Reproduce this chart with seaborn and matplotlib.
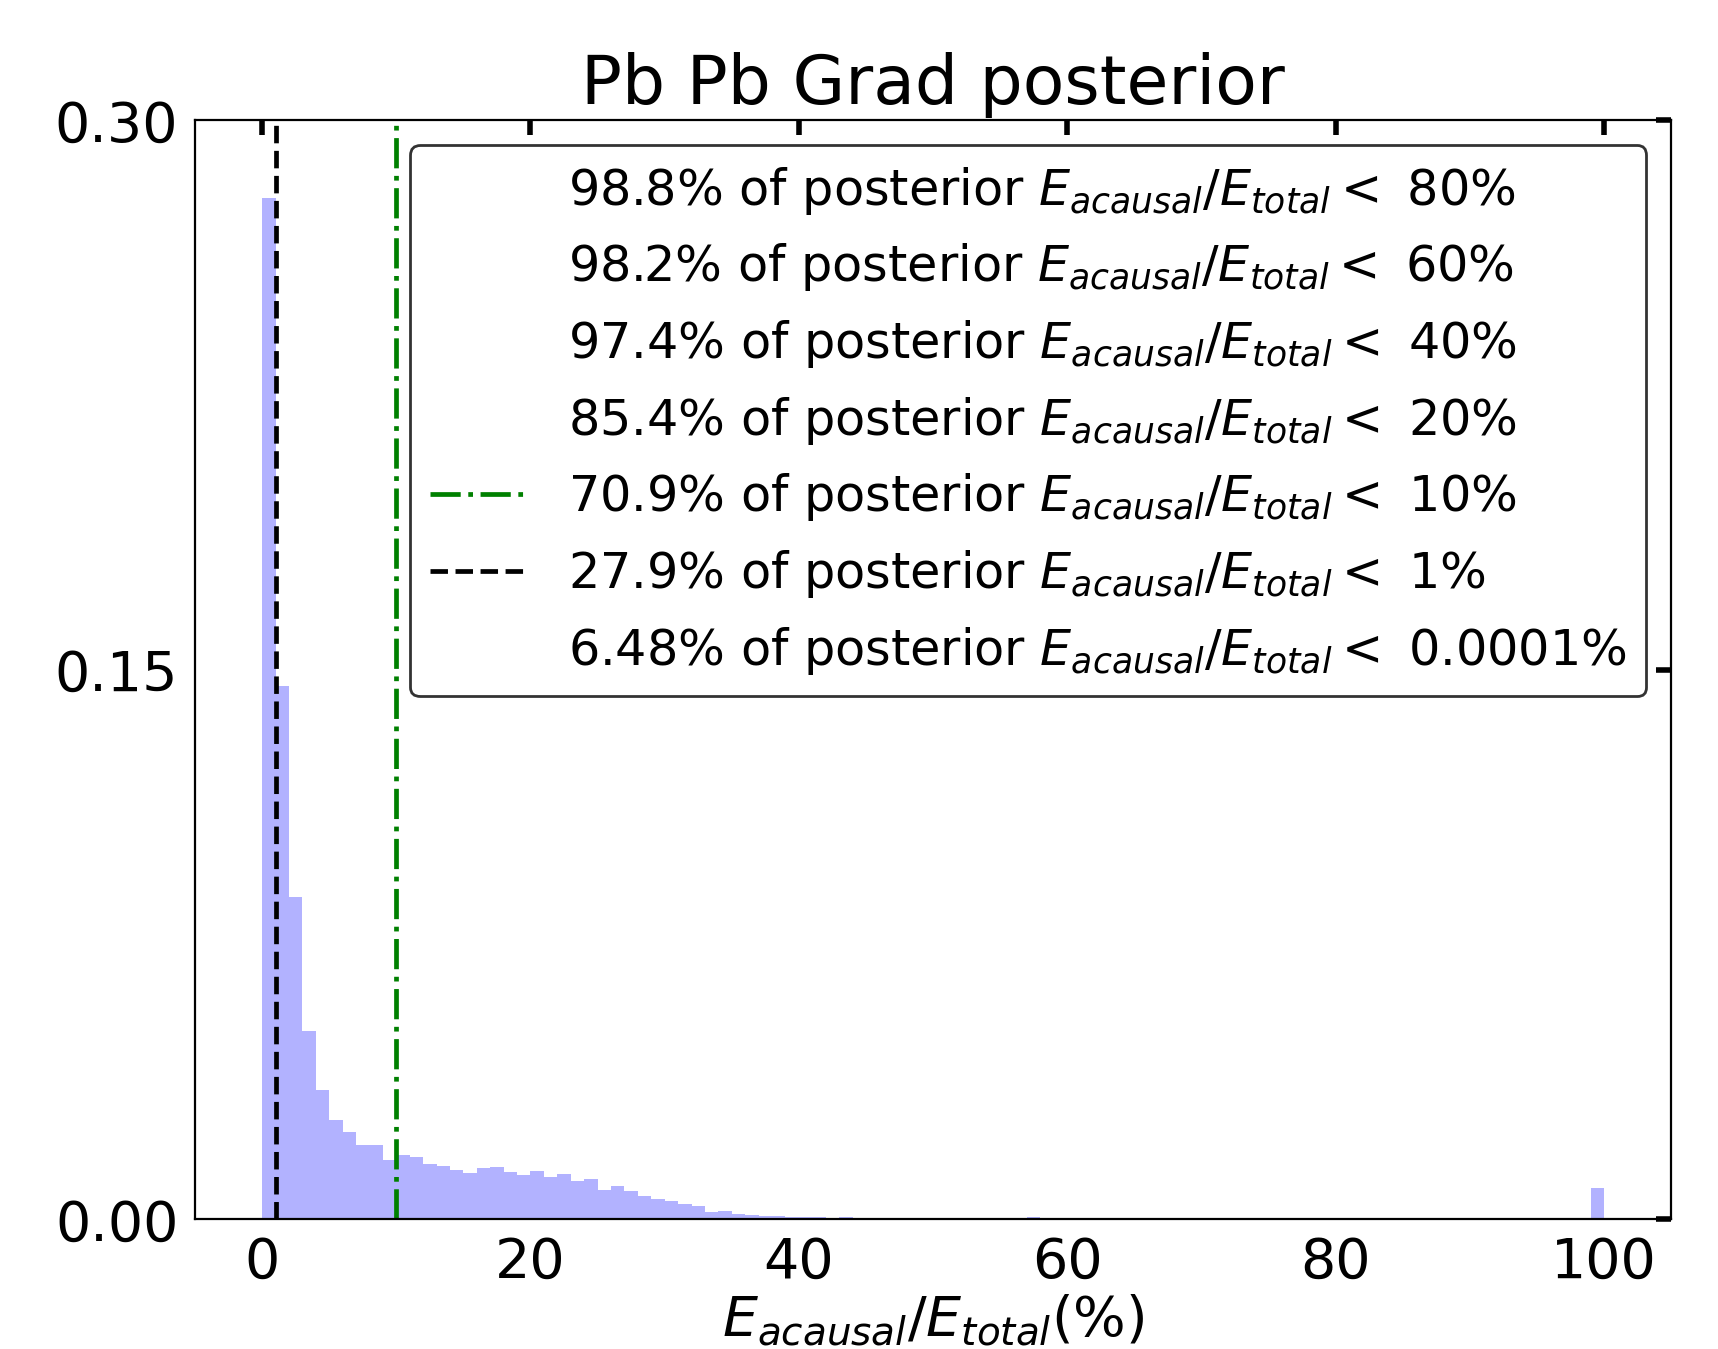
import numpy as np
import pandas as pd
import seaborn as sns
from matplotlib import pyplot as plt

# histogram of E_acausal/E_total (%) posterior, density per 1% bin
bin_edges = list(range(0, 101))
density = [
    0.2788, 0.1455, 0.0879, 0.0514, 0.0353, 0.0272, 0.0239, 0.0204, 0.0204, 0.0163,
    0.0177, 0.0171, 0.0152, 0.0147, 0.0136, 0.0127, 0.0141, 0.0144, 0.0130, 0.0122,
    0.0133, 0.0116, 0.0125, 0.0106, 0.0111, 0.0081, 0.0092, 0.0078, 0.0065, 0.0056,
    0.0051, 0.0043, 0.0037, 0.0021, 0.0024, 0.0015, 0.0011, 0.0010, 0.0010, 0.0007,
    0.0007, 0.0007, 0.0005, 0.0007, 0.0005, 0.0005, 0.0, 0.0, 0.0, 0.0,
    0.0, 0.0, 0.0, 0.0, 0.0, 0.0, 0.0, 0.0007, 0.0005, 0.0,
    0.0, 0.0, 0.0, 0.0, 0.0, 0.0005, 0.0, 0.0, 0.0005, 0.0,
    0.0005, 0.0, 0.0, 0.0005, 0.0, 0.0005, 0.0, 0.0, 0.0005, 0.0,
    0.0, 0.0, 0.0005, 0.0, 0.0, 0.0, 0.0, 0.0, 0.0005, 0.0,
    0.0, 0.0, 0.0, 0.0, 0.0, 0.0, 0.0, 0.0, 0.0, 0.0086,
]

# thresholds and fraction of posterior below each
thresholds = ["80", "60", "40", "20", "10", "1", "0.0001"]
threshold_vals = [80, 60, 40, 20, 10, 1, 0.0001]
fractions = ["98.8", "98.2", "97.4", "85.4", "70.9", "27.9", "6.48"]
line_colors = ["none", "none", "none", "none", "green", "black", "none"]
line_styles = ["-", "-", "-", "-", "-.", "--", "-"]

x_ticks = [0, 20, 40, 60, 80, 100]
y_ticks = [0.0, 0.15, 0.30]

sns.set_style("white")
plt.rcParams["font.family"] = ["DejaVu Sans"]
plt.rcParams["mathtext.fontset"] = "dejavusans"
plt.rcParams.update({
    "text.color": "black",
    "axes.labelcolor": "black",
    "xtick.color": "black",
    "ytick.color": "black",
})

df = pd.DataFrame({
    "x": [(bin_edges[i] + bin_edges[i + 1]) / 2 for i in range(len(density))],
    "w": density,
})

fig = plt.figure(figsize=(17.18, 13.49), dpi=100)
ax = fig.add_axes([0.1135, 0.096, 0.8592, 0.8147])

sns.histplot(data=df, x="x", weights="w", bins=bin_edges, stat="count",
             color="blue", alpha=0.3, edgecolor="none", linewidth=0, ax=ax)

for t, tv, f, c, ls in zip(thresholds, threshold_vals, fractions, line_colors, line_styles):
    ax.axvline(tv, color=c, linestyle=ls, lw=3.4,
               label=f"{f}% of posterior $E_{{acausal}}/E_{{total}} <$ {t}%")

ax.set_xlim(-5, 105)
ax.set_ylim(0, 0.30)
ax.set_xticks(x_ticks)
ax.set_yticks(y_ticks)
ax.set_yticklabels([f"{v:.2f}" for v in y_ticks])
ax.tick_params(direction="in", length=11, width=4, labelsize=40,
               top=True, right=True, color="black", labelcolor="black", pad=12)
for s in ax.spines.values():
    s.set_color("black")
    s.set_linewidth(1.6)

ax.set_xlabel("$E_{acausal}/E_{total}(\\%)$", fontsize=40, labelpad=2, color="black")
ax.set_ylabel("")
ax.set_title("Pb Pb Grad posterior", fontsize=49, pad=12, color="black")

leg = ax.legend(loc="upper right", fontsize=35.5, frameon=True, fancybox=True)
leg.get_frame().set_edgecolor("#333333")
leg.get_frame().set_linewidth(2)
leg.get_frame().set_alpha(1)
for txt in leg.get_texts():
    txt.set_color("black")

fig.savefig("out.png", dpi=100)
